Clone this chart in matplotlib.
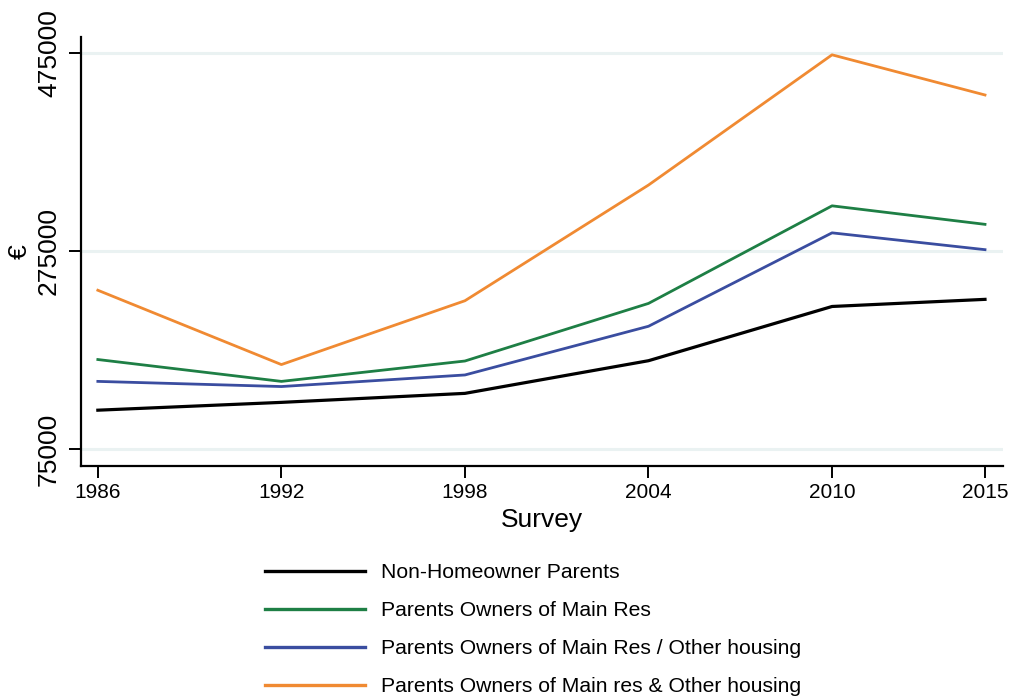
import matplotlib
matplotlib.use("Agg")
import matplotlib.pyplot as plt

plt.rcParams['font.family'] = ['Liberation Sans', 'DejaVu Sans']

years = [1986, 1992, 1998, 2004, 2010, 2015]
non_home = [114200, 122100, 131200, 164200, 219000, 226200]
owners_main = [165400, 143300, 163900, 222100, 320700, 302000]
owners_main_other = [143300, 138100, 149800, 199000, 293400, 276400]
owners_main_and_other = [235400, 160300, 224800, 341700, 473300, 432700]

labels = ["Non-Homeowner Parents",
          "Parents Owners of Main Res",
          "Parents Owners of Main Res / Other housing",
          "Parents Owners of Main res & Other housing"]
colors = ["#000000", "#1E7F45", "#3A4DA0", "#F08A32"]
yticks = [75000, 275000, 475000]

fig = plt.figure(figsize=(10.14, 7.0), dpi=100)
ax = fig.add_axes([0.0799, 0.3347, 0.9090, 0.6123])

series = [non_home, owners_main, owners_main_other, owners_main_and_other]
lines = []
for vals, lab, col in zip(series, labels, colors):
    lw = 2.3 if col == "#000000" else 2.0
    ln, = ax.plot(years, vals, color=col, lw=lw, label=lab, zorder=3)
    lines.append(ln)

ax.set_xlim(1985.45, 2015.58)
ax.set_ylim(58100, 491200)
ax.set_xticks(years)
ax.set_xticklabels([str(y) for y in years], fontsize=15)
ax.set_yticks(yticks)
ax.set_yticklabels([str(v) for v in yticks], fontsize=19, rotation=90, va='center')

ax.yaxis.grid(True, color="#EAF2F2", lw=2.2, zorder=0)
ax.xaxis.grid(False)
ax.set_axisbelow(True)

for s in ['top', 'right']:
    ax.spines[s].set_visible(False)
for s in ['left', 'bottom']:
    ax.spines[s].set_linewidth(1.6)
    ax.spines[s].set_color("#000000")
ax.tick_params(axis='both', length=8.5, width=1.4, color="#000000")
ax.tick_params(axis='x', pad=4)
ax.tick_params(axis='y', pad=6)

ax.set_xlabel("Survey", fontsize=19, labelpad=4)
ax.set_ylabel("€", fontsize=19, labelpad=4)

fig.legend(handles=lines, labels=labels, loc='upper left',
           bbox_to_anchor=(0.2613, 0.195), frameon=False, fontsize=15.2,
           handlelength=4.75, handletextpad=0.75, labelspacing=0.9,
           borderaxespad=0, borderpad=0)
for h in fig.legends[0].legend_handles:
    h.set_linewidth(2.4)

fig.savefig("out.png", dpi=100)
